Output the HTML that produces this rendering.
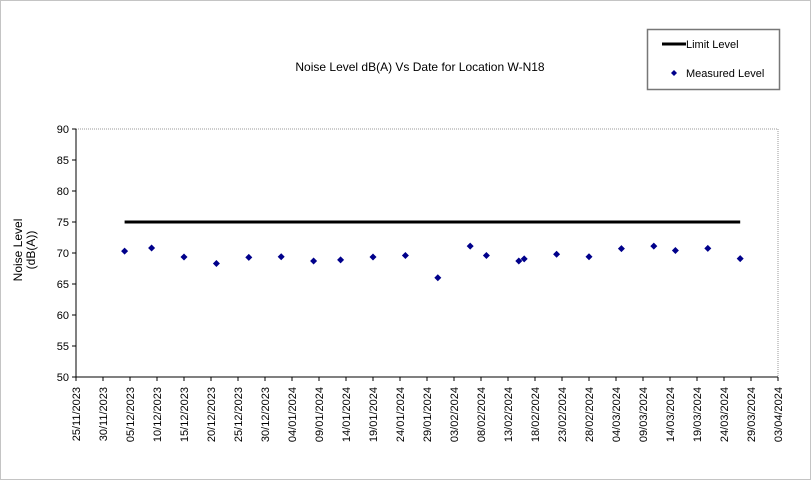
<!DOCTYPE html>
<html><head><meta charset="utf-8"><style>
body{margin:0;background:#fff}
svg{display:block;font-family:"Liberation Sans",Arial,sans-serif}
</style></head><body>
<svg id="chart" width="812" height="481" viewBox="0 0 812 481" xmlns="http://www.w3.org/2000/svg">
<rect x="0.5" y="0.5" width="810" height="479" fill="#fff" stroke="#888" stroke-dasharray="1,1"/>
<text x="420" y="71" font-size="12" text-anchor="middle">Noise Level dB(A) Vs Date for Location W-N18</text>
<text transform="translate(22,250) rotate(-90)" font-size="12" text-anchor="middle"><tspan x="0" dy="0">Noise Level</tspan><tspan x="0" dy="13">(dB(A))</tspan></text>
<g>
<rect x="647.5" y="29.5" width="132" height="60" fill="#fff" stroke="#777" stroke-width="1.5"/>
<line x1="662" y1="44" x2="686" y2="44" stroke="#000" stroke-width="3"/>
<text x="686" y="48" font-size="11">Limit Level</text>
<path d="M674,70 l3,3 -3,3 -3,-3z" fill="#00008b"/>
<text x="686" y="77" font-size="11">Measured Level</text>
</g>
<g id="plot"></g>
</svg>
<script>
const yTicks=[50,55,60,65,70,75,80,85,90];
const xTickLabels=["25/11/2023","30/11/2023","05/12/2023","10/12/2023","15/12/2023","20/12/2023","25/12/2023","30/12/2023","04/01/2024","09/01/2024","14/01/2024","19/01/2024","24/01/2024","29/01/2024","03/02/2024","08/02/2024","13/02/2024","18/02/2024","23/02/2024","28/02/2024","04/03/2024","09/03/2024","14/03/2024","19/03/2024","24/03/2024","29/03/2024","03/04/2024"];
// day offsets from 25/11/2023
const measuredDays=[9,14,20,26,32,38,44,49,55,61,67,73,76,82,83,89,95,101,107,111,117,123];
const measuredValues=[70.3,70.8,69.35,68.3,69.3,69.4,68.7,68.9,69.35,69.6,66.0,71.1,69.6,68.7,69.05,69.8,69.4,70.7,71.1,70.4,70.75,69.1];
const limitDays=[9,123];
const limitValues=[75,75];
const X0=76,X1=778,Y0=377,Y1=129,DMAX=130,VMIN=50,VMAX=90;
const xs=d=>X0+(X1-X0)*d/DMAX;
const ys=v=>Y0-(Y0-Y1)*(v-VMIN)/(VMAX-VMIN);
const NS="http://www.w3.org/2000/svg";
const g=document.getElementById('plot');
function mk(t,a){const e=document.createElementNS(NS,t);for(const k in a)e.setAttribute(k,a[k]);g.appendChild(e);return e;}
let e;
e=mk('rect',{x:X0,y:Y1,width:X1-X0,height:Y0-Y1,fill:'none',stroke:'#999','stroke-dasharray':'1,1'});


e=mk('line',{x1:X0,y1:Y1,x2:X0,y2:Y0,stroke:'#000'});


e=mk('line',{x1:X0,y1:Y0,x2:X1,y2:Y0,stroke:'#000'});


yTicks.forEach(v=>{
 e=mk('line',{x1:X0-4,y1:ys(v),x2:X0,y2:ys(v),stroke:'#000'});
 
 
 e=mk('text',{x:X0-7,y:ys(v)+4,'font-size':11,'text-anchor':'end'});
 e.textContent=v;
 
 
});
xTickLabels.forEach((l,i)=>{
 const x=xs(i*5);
 e=mk('line',{x1:x,y1:Y0,x2:x,y2:Y0+4,stroke:'#000'});
 
 
 e=mk('text',{transform:`translate(${x+4},387) rotate(-90)`,'font-size':11,'text-anchor':'end'});
 e.textContent=l;
 
 
});
e=mk('line',{x1:xs(limitDays[0]),y1:ys(limitValues[0]),x2:xs(limitDays[1]),y2:ys(limitValues[1]),stroke:'#000','stroke-width':3});


measuredDays.forEach((d,i)=>{
 const x=xs(d),y=ys(measuredValues[i]);
 e=mk('path',{d:`M${x},${y-3.5} L${x+3.5},${y} L${x},${y+3.5} L${x-3.5},${y}Z`,fill:'#00008b'});
 
 
});
</script>
</body></html>
